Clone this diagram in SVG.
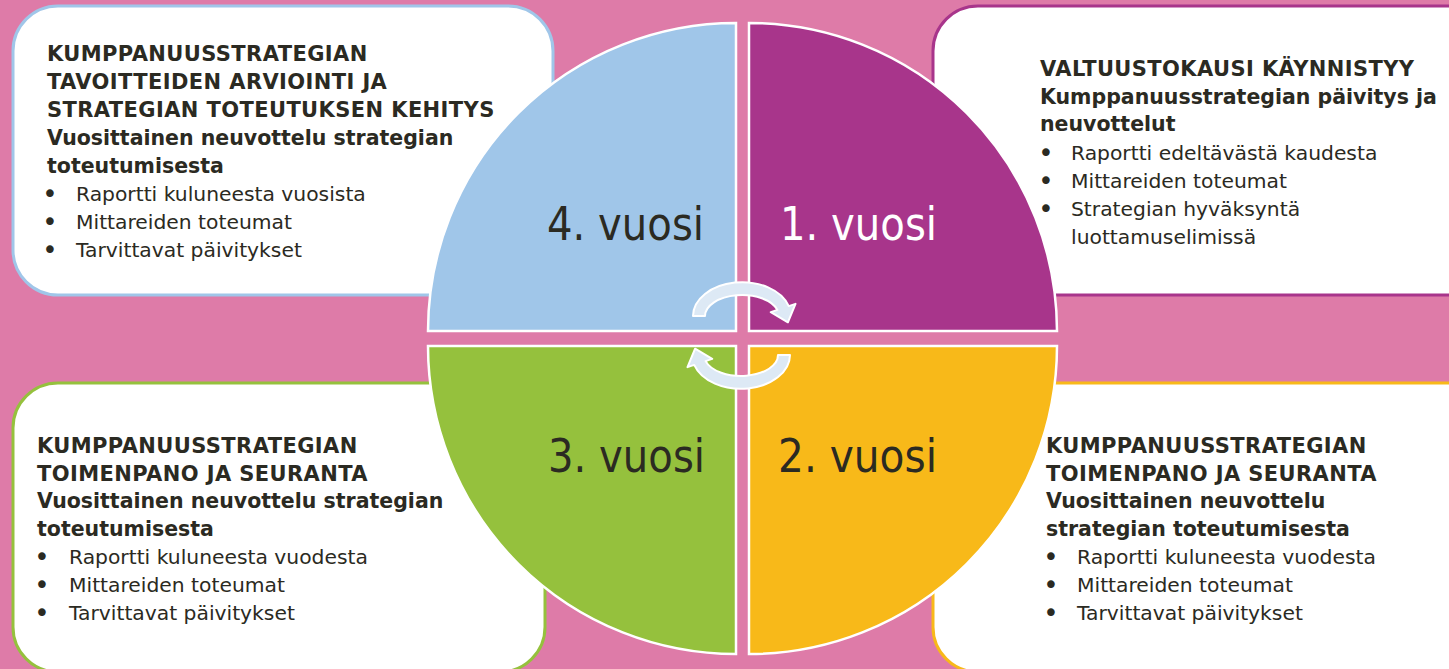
<svg xmlns="http://www.w3.org/2000/svg" width="1449" height="669" viewBox="0 0 1449 669">
  <style>
    .box { fill: #ffffff; stroke-width: 3; }
    .quad { stroke: #ffffff; stroke-width: 2.5; }
    .t { font-family: "DejaVu Sans", Verdana, sans-serif; fill: #2b2a22; }
    .h { font-size: 21px; font-weight: bold; letter-spacing: 0.4px; }
    .s { font-size: 20.5px; font-weight: bold; }
    .b { font-size: 20.3px; }
    .dot { font-size: 26px; text-anchor: middle; }
    .big { font-family: "DejaVu Sans", Verdana, sans-serif; font-size: 47px; fill: #2b2a22; }
    .arrow { fill: #dde9f5; stroke: #ffffff; stroke-width: 2; stroke-linejoin: round; }
  </style>
  <rect x="0" y="0" width="1449" height="669" fill="#de7ba8"/>

  <g id="box-4">
    <rect class="box" x="13" y="6" width="540" height="289" rx="45" stroke="#a0c6e9"/>
    <g class="t">
      <text class="h" x="47" y="61">KUMPPANUUSSTRATEGIAN</text>
      <text class="h" x="47" y="89">TAVOITTEIDEN ARVIOINTI JA</text>
      <text class="h" x="47" y="117">STRATEGIAN TOTEUTUKSEN KEHITYS</text>
      <text class="s" x="47" y="145">Vuosittainen neuvottelu strategian</text>
      <text class="s" x="47" y="173">toteutumisesta</text>
      <text class="dot" x="50" y="203">•</text><text class="b" x="76" y="201">Raportti kuluneesta vuosista</text>
      <text class="dot" x="50" y="231">•</text><text class="b" x="76" y="229">Mittareiden toteumat</text>
      <text class="dot" x="50" y="259">•</text><text class="b" x="76" y="257">Tarvittavat päivitykset</text>
    </g>
  </g>

  <g id="box-1">
    <rect class="box" x="933" y="6" width="560" height="289" rx="45" stroke="#a8358b"/>
    <g class="t">
      <text class="h" x="1040" y="76">VALTUUSTOKAUSI KÄYNNISTYY</text>
      <text class="s" x="1040" y="104">Kumppanuusstrategian päivitys ja</text>
      <text class="s" x="1040" y="131">neuvottelut</text>
      <text class="dot" x="1046" y="162">•</text><text class="b" x="1071" y="160">Raportti edeltävästä kaudesta</text>
      <text class="dot" x="1046" y="190">•</text><text class="b" x="1071" y="188">Mittareiden toteumat</text>
      <text class="dot" x="1046" y="218">•</text><text class="b" x="1071" y="216">Strategian hyväksyntä</text>
      <text class="b" x="1071" y="244">luottamuselimissä</text>
    </g>
  </g>

  <g id="box-3">
    <rect class="box" x="13" y="383" width="532" height="289" rx="45" stroke="#95c13d"/>
    <g class="t">
      <text class="h" x="37" y="453">KUMPPANUUSSTRATEGIAN</text>
      <text class="h" x="37" y="481">TOIMENPANO JA SEURANTA</text>
      <text class="s" x="37" y="508">Vuosittainen neuvottelu strategian</text>
      <text class="s" x="37" y="536">toteutumisesta</text>
      <text class="dot" x="42" y="566">•</text><text class="b" x="69" y="564">Raportti kuluneesta vuodesta</text>
      <text class="dot" x="42" y="594">•</text><text class="b" x="69" y="592">Mittareiden toteumat</text>
      <text class="dot" x="42" y="622">•</text><text class="b" x="69" y="620">Tarvittavat päivitykset</text>
    </g>
  </g>

  <g id="box-2">
    <rect class="box" x="933" y="383" width="560" height="289" rx="45" stroke="#f8b919"/>
    <g class="t">
      <text class="h" x="1046" y="453">KUMPPANUUSSTRATEGIAN</text>
      <text class="h" x="1046" y="481">TOIMENPANO JA SEURANTA</text>
      <text class="s" x="1046" y="508">Vuosittainen neuvottelu</text>
      <text class="s" x="1046" y="536">strategian toteutumisesta</text>
      <text class="dot" x="1051" y="566">•</text><text class="b" x="1077" y="564">Raportti kuluneesta vuodesta</text>
      <text class="dot" x="1051" y="594">•</text><text class="b" x="1077" y="592">Mittareiden toteumat</text>
      <text class="dot" x="1051" y="622">•</text><text class="b" x="1077" y="620">Tarvittavat päivitykset</text>
    </g>
  </g>

  <g id="year-4">
    <path class="quad" fill="#a0c6e9" d="M 736 331 L 428 331 A 308 308 0 0 1 736 23 Z"/>
    <text class="big" x="547" y="240" textLength="157" lengthAdjust="spacingAndGlyphs">4. vuosi</text>
  </g>
  <g id="year-1">
    <path class="quad" fill="#a8358b" d="M 749 331 L 749 23 A 308 308 0 0 1 1057 331 Z"/>
    <text class="big" x="780" y="240" textLength="157" lengthAdjust="spacingAndGlyphs" style="fill:#ffffff">1. vuosi</text>
  </g>
  <g id="year-3">
    <path class="quad" fill="#95c13d" d="M 736 346 L 736 654 A 308 308 0 0 1 428 346 Z"/>
    <text class="big" x="548" y="472" textLength="157" lengthAdjust="spacingAndGlyphs">3. vuosi</text>
  </g>
  <g id="year-2">
    <path class="quad" fill="#f8b919" d="M 749 346 L 1057 346 A 308 308 0 0 1 749 654 Z"/>
    <text class="big" x="778" y="472" textLength="159" lengthAdjust="spacingAndGlyphs">2. vuosi</text>
  </g>

  <g id="connectors">
    <path class="arrow" d="M 693 316 A 49 34 0 0 1 788.8 306.1 L 795.5 303.9 L 787.9 322.3 L 770.8 312.1 L 777.4 309.9 A 37 21 0 0 0 705 316 Z"/>
    <path class="arrow" transform="rotate(180 741.5 335.5)" d="M 693 316 A 49 34 0 0 1 788.8 306.1 L 795.5 303.9 L 787.9 322.3 L 770.8 312.1 L 777.4 309.9 A 37 21 0 0 0 705 316 Z"/>
  </g>
</svg>
